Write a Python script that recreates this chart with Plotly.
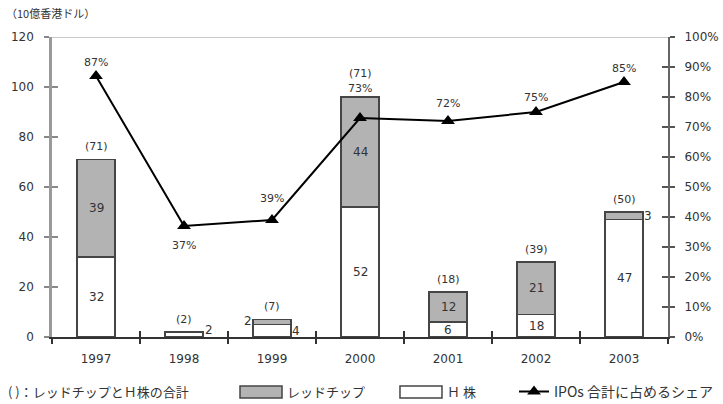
import plotly.graph_objects as go

# ---------------- data ----------------
years = ["1997", "1998", "1999", "2000", "2001", "2002", "2003"]
h_shares = [32, 2, 5, 52, 6, 9, 47]            # H株 (drawn heights)
red_chips = [39, None, 2, 44, 12, 21, 3]        # レッドチップ (drawn heights)
h_labels = ["32", "2", "4", "52", "6", "18", "47"]
red_labels = ["39", "", "2", "44", "12", "21", "3"]
total_labels = ["(71)", "(2)", "(7)", "(71)", "(18)", "(39)", "(50)"]
ipo_share = [87, 37, 39, 73, 72, 75, 85]        # IPOs 合計に占めるシェア (%)
share_labels = ["87%", "37%", "39%", "73%", "72%", "75%", "85%"]
left_ticks = [0, 20, 40, 60, 80, 100, 120]
right_ticks = [0, 10, 20, 30, 40, 50, 60, 70, 80, 90, 100]
right_tick_text = [f"{v}%" for v in right_ticks]

# ---------------- style ----------------
FONT = "DejaVu Sans, Noto Sans CJK JP"
JP = "Noto Sans CJK JP, DejaVu Sans"
TXT = "#333333"
GREY = "#b3b3b3"
EDGE = "#454545"
share_shift = [14, -19, 22, 30, 18, 15, 14]
total_shift = [13, 13, 13, 24, 13, 13, 13]

fig = go.Figure()

fig.add_trace(go.Bar(x=years, y=h_shares, name="Ｈ株", marker=dict(color="white", line=dict(color=EDGE, width=1.5)),
                     width=0.43, showlegend=False, hoverinfo="skip"))
fig.add_trace(go.Bar(x=years, y=red_chips, name="レッドチップ", marker=dict(color=GREY, line=dict(color=EDGE, width=1.5)),
                     width=0.43, showlegend=False, hoverinfo="skip"))
fig.add_trace(go.Scatter(x=years, y=ipo_share, name="IPOs 合計に占めるシェア", mode="lines+markers",
                         line=dict(color="black", width=2),
                         marker=dict(symbol="triangle-up", size=12, color="black"),
                         xaxis="x2", yaxis="y2", showlegend=True, hoverinfo="skip"))
# helper (empty) traces to carry the inward tick marks
fig.add_trace(go.Scatter(x=[], y=[], xaxis="x", yaxis="y3", showlegend=False))
fig.add_trace(go.Scatter(x=[], y=[], xaxis="x", yaxis="y4", showlegend=False))

def ann(i, y, text, xref="x", yref="y", xshift=0, yshift=0, size=12):
    return dict(x=i, y=y, xref=xref, yref=yref, text=text, showarrow=False, xshift=xshift, yshift=yshift,
                font=dict(size=size, color=TXT, family=FONT))

annotations = []
for i, yr in enumerate(years):
    h = h_shares[i]
    r = red_chips[i] or 0
    tot = h + r
    # H-share labels
    if yr == "1998":
        annotations.append(ann(i, h, h_labels[i], xshift=25, yshift=2))
    elif yr == "1999":
        annotations.append(ann(i, 0, h_labels[i], xshift=24, yshift=6))
    else:
        annotations.append(ann(i, h / 2, h_labels[i]))
    # red chip labels
    if red_labels[i]:
        if yr == "1999":
            annotations.append(ann(i, tot, red_labels[i], xshift=-24, yshift=-1))
        elif yr == "2003":
            annotations.append(ann(i, h + r / 2, red_labels[i], xshift=24))
        else:
            annotations.append(ann(i, h + r / 2, red_labels[i]))
    # totals
    annotations.append(ann(i, tot, total_labels[i], yshift=total_shift[i], size=11))
    # share labels
    annotations.append(ann(i, ipo_share[i], share_labels[i], xref="x2", yref="y2", yshift=share_shift[i], size=11))

LEG_Y = -0.183
annotations.append(dict(x=-0.0775, y=1.08, xref="paper", yref="paper", xanchor="left", yanchor="middle",
                        text="（10億香港ドル）", showarrow=False, font=dict(size=11, color=TXT, family=JP)))
annotations.append(dict(x=-0.0745, y=LEG_Y, xref="paper", yref="paper", xanchor="left", yanchor="middle",
                        text="( )：レッドチップとＨ株の合計", showarrow=False, font=dict(size=13, color=TXT, family=JP)))
annotations.append(dict(x=0.378, y=LEG_Y, xref="paper", yref="paper", xanchor="left", yanchor="middle",
                        text="レッドチップ", showarrow=False, font=dict(size=13, color=TXT, family=JP)))
annotations.append(dict(x=0.638, y=LEG_Y, xref="paper", yref="paper", xanchor="left", yanchor="middle",
                        text="Ｈ 株", showarrow=False, font=dict(size=13, color=TXT, family=JP)))

# legend key boxes for the bar series
legend_boxes = [
    dict(type="rect", xref="paper", yref="paper", x0=0.3052, x1=0.3734, y0=-0.2033, y1=-0.1633,
         fillcolor=GREY, line=dict(color=EDGE, width=1.5)),
    dict(type="rect", xref="paper", yref="paper", x0=0.5649, x1=0.6331, y0=-0.2033, y1=-0.1633,
         fillcolor="white", line=dict(color=EDGE, width=1.5)),
]

axis_common = dict(showgrid=False, zeroline=False, fixedrange=True, automargin=False)

fig.update_layout(
    width=723, height=404,
    margin=dict(l=52, r=55, t=37, b=67, autoexpand=False),
    paper_bgcolor="white", plot_bgcolor="white",
    barmode="stack", bargap=0.57,
    font=dict(family=FONT, size=12, color=TXT),
    xaxis=dict(type="category", categoryorder="array", categoryarray=years, range=[-0.5, 6.5],
               tickson="boundaries", ticks="outside", ticklen=5, tickcolor="#333", tickwidth=1.5,
               showline=True, linecolor="#333", linewidth=1.5, ticklabelstandoff=10,
               tickfont=dict(size=12, color=TXT, family=FONT), **axis_common),
    xaxis2=dict(type="category", categoryorder="array", categoryarray=years, range=[-0.5, 6.5],
                overlaying="x", anchor="y", side="bottom", tickson="boundaries", ticks="inside", ticklen=6,
                tickcolor="#333", tickwidth=1.5, showticklabels=False, showline=False, **axis_common),
    yaxis=dict(range=[0, 120], tickvals=left_ticks, ticks="outside", ticklen=5, tickcolor="#888", tickwidth=1.5,
               showline=True, linecolor="#999", linewidth=2.5, ticklabelstandoff=8,
               tickfont=dict(size=12, color=TXT, family=FONT), **axis_common),
    yaxis3=dict(range=[0, 120], tickvals=left_ticks, overlaying="y", side="left", anchor="x", ticks="inside",
                ticklen=6, tickcolor="#888", tickwidth=1.5, showticklabels=False, showline=False, **axis_common),
    yaxis2=dict(range=[0, 100], tickmode="array", tickvals=right_ticks, ticktext=right_tick_text,
                overlaying="y", side="right", anchor="x2",
                ticks="outside", ticklen=5, tickcolor="#555", tickwidth=1.5, showline=True, linecolor="#666",
                linewidth=2, ticklabelstandoff=7, tickfont=dict(size=12, color=TXT, family=FONT), **axis_common),
    yaxis4=dict(range=[0, 100], tickvals=right_ticks, overlaying="y", side="right", anchor="x", ticks="inside",
                ticklen=6, tickcolor="#555", tickwidth=1.5, showticklabels=False, showline=False, **axis_common),
    legend=dict(x=0.75, y=LEG_Y, xanchor="left", yanchor="middle", orientation="h", bgcolor="rgba(0,0,0,0)",
                font=dict(size=14, color=TXT, family=JP), itemwidth=30),
    shapes=[dict(type="line", xref="paper", x0=0, x1=1, yref="y", y0=left_ticks[-1], y1=left_ticks[-1],
                 line=dict(color="#c8c8c8", width=2), layer="below")] + legend_boxes,
    annotations=annotations,
    showlegend=True,
)

fig.write_html("out.html")
